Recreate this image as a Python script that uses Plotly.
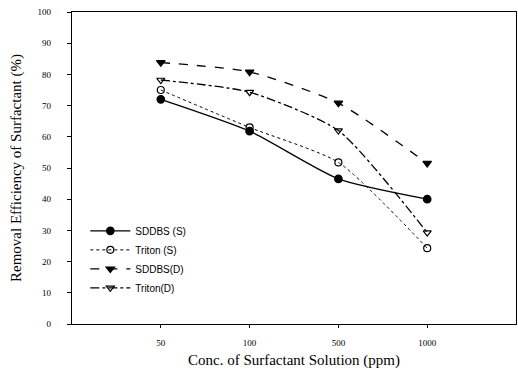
import plotly.graph_objects as go

categories = ["50", "100", "500", "1000"]
sddbs_s = [72.0, 61.8, 46.5, 40.0]
triton_s = [75.0, 63.0, 51.8, 24.3]
sddbs_d = [83.8, 80.8, 70.8, 51.5]
triton_d = [78.2, 74.3, 62.0, 29.3]
y_ticks = [0, 10, 20, 30, 40, 50, 60, 70, 80, 90, 100]

xpos = [1, 2, 3, 4]

series = [
    ("SDDBS (S)", sddbs_s, "solid", "circle", 7.5),
    ("Triton (S)", triton_s, "dot", "circle-open", 7),
    ("SDDBS(D)", sddbs_d, "dash", "triangle-down", 7.5),
    ("Triton(D)", triton_d, "dashdot", "triangle-down-open", 7),
]

fig = go.Figure()
for name, vals, dash, sym, sz in series:
    fig.add_trace(go.Scatter(
        x=xpos, y=vals, name=name, mode="lines+markers",
        line=dict(color="black", width=1.3 if dash != "dot" else 1.0, dash=dash,
                  shape="spline", smoothing=0.6),
        marker=dict(symbol=sym, size=sz, color="black", line=dict(color="black", width=1.2)),
    ))

fig.update_layout(
    width=518, height=377,
    margin=dict(l=72, r=2, t=12, b=53),
    paper_bgcolor="white", plot_bgcolor="white",
    font=dict(family="Liberation Serif, Times New Roman, serif", color="black"),
    showlegend=True,
    legend=dict(x=0.03, y=0.345, xanchor="left", yanchor="top",
                bgcolor="rgba(0,0,0,0)", borderwidth=0,
                font=dict(family="Liberation Sans, Arial, sans-serif", size=10),
                tracegroupgap=0, itemwidth=40),
)
fig.update_xaxes(
    range=[0, 5], tickmode="array", tickvals=xpos, ticktext=categories,
    showgrid=False, zeroline=False, showline=True, linecolor="black", linewidth=1.2,
    mirror=True, ticks="outside", ticklen=3, tickcolor="black",
    tickfont=dict(size=9), ticklabelstandoff=7,
    title=dict(text="Conc. of Surfactant Solution (ppm)", font=dict(size=15), standoff=7),
)
fig.update_yaxes(
    range=[0, 100], tickmode="array", tickvals=y_ticks,
    showgrid=False, zeroline=False, showline=True, linecolor="black", linewidth=1.2,
    mirror=True, ticks="outside", ticklen=4, tickcolor="black",
    tickfont=dict(size=9), ticklabelstandoff=14,
    title=dict(text="Removal Efficiency of Surfactant (%)", font=dict(size=15), standoff=12),
)

fig.write_html("out.html")
